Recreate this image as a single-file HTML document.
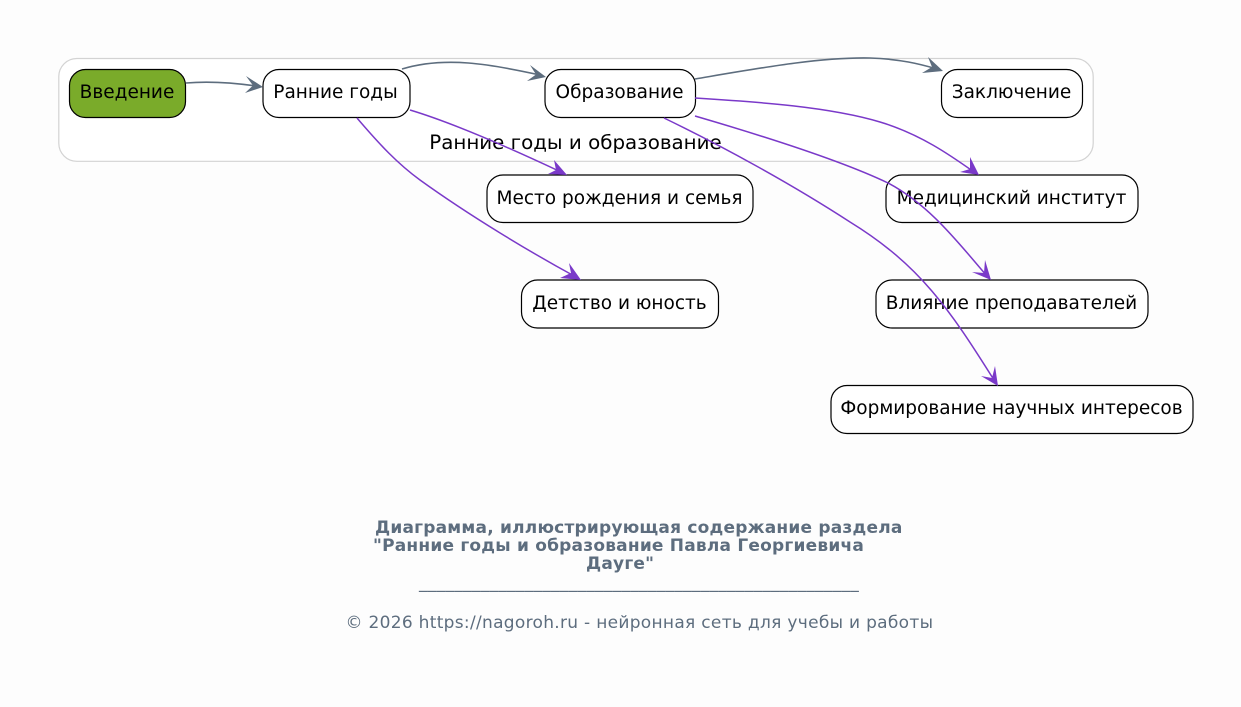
<!DOCTYPE html>
<html lang="ru">
<head>
<meta charset="utf-8">
<title>Ранние годы и образование</title>
<style>
html,body{margin:0;padding:0;background:#fdfdfd;width:1241px;height:707px;overflow:hidden}
svg{display:block}
text{font-family:"DejaVu Sans",sans-serif}
.n{fill:#fff;stroke:#000;stroke-width:1.2}
.t{font-size:18.5px;fill:#000;text-anchor:middle}
.c{font-size:19.84px;fill:#000;text-anchor:middle}
.g{fill:none;stroke:#5d6d7e;stroke-width:1.6}
.p{fill:none;stroke:#7a39c9;stroke-width:1.5}
.gh{fill:#5d6d7e}
.ph{fill:#7a39c9}
.b{font-size:17px;font-weight:bold;fill:#5d6d7e;letter-spacing:.21px}
.f{font-size:17px;fill:#5d6d7e;letter-spacing:.3px}
</style>
</head>
<body>
<svg width="1241" height="707" viewBox="0 0 1241 707" xmlns="http://www.w3.org/2000/svg">
<rect x="0" y="0" width="1241" height="707" fill="#fdfdfd"/>
<rect x="58.8" y="58.5" width="1034.4" height="102.8" rx="18" ry="18" fill="#fff" stroke="#d3d3d3" stroke-width="1.2"/>

<rect x="69.5" y="69.500" width="116" height="48" rx="16" fill="#7aab2a" stroke="#000" stroke-width="1.2"/>
<rect class="n" x="263" y="69.500" width="147" height="48" rx="16"/>
<rect class="n" x="545" y="69.500" width="150.500" height="48" rx="16"/>
<rect class="n" x="941.500" y="69.500" width="141" height="48" rx="16"/>
<rect class="n" x="487" y="175" width="266" height="47.500" rx="16"/>
<rect class="n" x="886" y="175" width="252" height="47.500" rx="16"/>
<rect class="n" x="521.500" y="280" width="197" height="48" rx="16"/>
<rect class="n" x="876" y="280" width="272" height="48" rx="16"/>
<rect class="n" x="831" y="385.500" width="362" height="48" rx="16"/>

<text class="t" x="127" y="98">Введение</text>
<text class="t" x="335.500" y="98">Ранние годы</text>
<text class="t" x="619.500" y="98">Образование</text>
<text class="t" x="1011.500" y="98">Заключение</text>
<text class="c" x="575.500" y="149">Ранние годы и образование</text>
<text class="t" x="619.500" y="204">Место рождения и семья</text>
<text class="t" x="1011.500" y="204">Медицинский институт</text>
<text class="t" x="619.500" y="309">Детство и юность</text>
<text class="t" x="1011.500" y="309">Влияние преподавателей</text>
<text class="t" x="1011.500" y="414">Формирование научных интересов</text>

<path class="g" d="M186,83 C210,81 235,83 256,86"/>
<polygon class="gh" points="263,87 246,76 253,85.500 245,93"/>
<path class="g" d="M402,69 C445,56 490,64 540,75"/>
<polygon class="gh" points="546,77 530,65 536,74.500 527,81"/>
<path class="g" d="M695,79 C760,68 820,57 870,58 C900,59 920,64 937,69"/>
<polygon class="gh" points="943,71 928,57 932,67 922,73"/>

<path class="p" d="M695,98 C760,102 830,107 880,122 C920,134 950,155 974,172"/>
<polygon class="ph" points="979,175 970,157 970,169 960,172"/>
<path class="p" d="M410,110 C450,122 510,148 561,172"/>
<polygon class="ph" points="567,175 554,160 556,170 548,174"/>
<path class="p" d="M357,118 C380,145 398,164 420,180 C470,216 530,252 576,277"/>
<polygon class="ph" points="581,280 569,263 571,273 560,278"/>
<path class="p" d="M695,116 C760,135 840,160 888,183 C930,205 960,245 987,276"/>
<polygon class="ph" points="991,280 985,260 984,273 972,272"/>
<path class="p" d="M664,118 C720,145 790,183 850,222 C920,265 950,310 994,380"/>
<polygon class="ph" points="998,386 995,366 992,378 981,376"/>

<text class="b" x="375" y="533">Диаграмма, иллюстрирующая содержание раздела</text>
<text class="b" x="373" y="551">"Ранние годы и образование Павла Георгиевича</text>
<text class="b" x="586" y="569">Дауге"</text>
<text class="f" x="419" y="588">__________________________________________________</text>
<text class="f" x="345.500" y="628">© 2026 https://nagoroh.ru - нейронная сеть для учебы и работы</text>
</svg>
</body>
</html>
